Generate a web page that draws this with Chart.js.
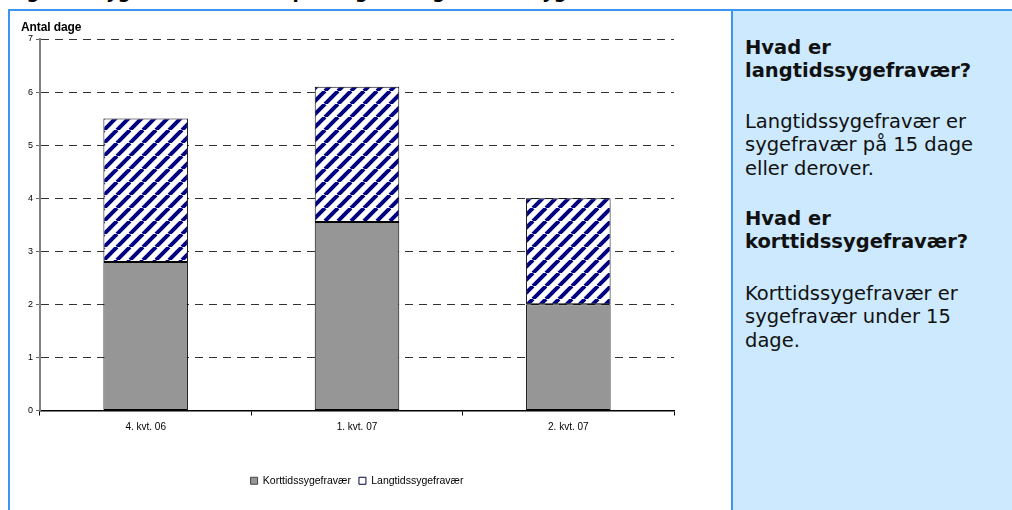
<!DOCTYPE html>
<html>
<head>
<meta charset="utf-8">
<script src="https://cdn.jsdelivr.net/npm/chart.js@4.4.1/dist/chart.umd.min.js"></script>
<style>
  html, body { margin:0; padding:0; background:#fff; }
  #wrap { position:relative; width:1012px; height:510px; overflow:hidden; background:#fff; }
  #title { position:absolute; left:8px; top:-19px; font:bold 18px "DejaVu Sans", Verdana, sans-serif; color:#000; white-space:nowrap; }
  #topline { position:absolute; left:8px; top:9px; width:1004px; height:2px; background:#3a96f0; }
  #leftline { position:absolute; left:8px; top:9px; width:2px; height:501px; background:#3a96f0; }
  #panel { position:absolute; left:731px; top:11px; width:281px; height:499px; background:#cce9fd; border-left:2px solid #3a96f0; box-sizing:border-box; }
  #panel .txt { position:absolute; left:12px; top:24.5px; width:268px; font:19.5px "DejaVu Sans", Verdana, sans-serif; color:#111; line-height:23.5px; }
  #panel h4 { font-weight:bold; margin:0; font-size:19.5px; line-height:23.5px; }
  #panel p { margin:0; }
  #h1 { margin-bottom:27px !important; }
  #p1 { margin-bottom:26.5px !important; }
  #h2 { margin-bottom:28px !important; }
  #ytitle { position:absolute; left:21px; top:20px; font:bold 12px "Liberation Sans Narrow", "Liberation Sans", Arial, sans-serif; color:#000; letter-spacing:-0.1px; }
  #c { position:absolute; left:0; top:0; }
</style>
</head>
<body>
<div id="wrap">
  <div id="title">Figur 3. Sygefravær fordelt på langtids- og korttidssygefravær</div>
  <div id="topline"></div>
  <div id="leftline"></div>
  <canvas id="c" width="731" height="510"></canvas>
  <div id="ytitle">Antal dage</div>
  <div id="panel"><div class="txt">
    <h4 id="h1">Hvad er<br>langtidssygefravær?</h4>
    <p id="p1">Langtidssygefravær er<br>sygefravær på 15 dage<br>eller derover.</p>
    <h4 id="h2">Hvad er<br>korttidssygefravær?</h4>
    <p id="p2">Korttidssygefravær er<br>sygefravær under 15<br>dage.</p>
  </div></div>
</div>
<script>
const categories = ['4. kvt. 06', '1. kvt. 07', '2. kvt. 07'];
const seriesNames = ['Korttidssygefravær', 'Langtidssygefravær'];
const kortValues = [2.8, 3.55, 2.0];
const langValues = [2.7, 2.55, 2.0];
const yMax = 7;
const yStep = 1;

function makeStripePattern() {
  const s = 13;
  const pc = document.createElement('canvas');
  pc.width = s; pc.height = s;
  const g = pc.getContext('2d');
  g.fillStyle = '#ffffff';
  g.fillRect(0, 0, s, s);
  g.strokeStyle = '#000080';
  g.lineWidth = 4;
  for (let k = -1; k <= 1; k++) {
    g.beginPath();
    g.moveTo(k * s, s);
    g.lineTo(k * s + s, 0);
    g.stroke();
  }
  return document.getElementById('c').getContext('2d').createPattern(pc, 'repeat');
}

const stripes = makeStripePattern();
const narrow = '"Liberation Sans Narrow", "Liberation Sans", Arial, sans-serif';

new Chart(document.getElementById('c'), {
  type: 'bar',
  data: {
    labels: categories,
    datasets: [
      { label: seriesNames[0], data: kortValues, backgroundColor: '#969696', borderColor: '#000', borderWidth: 1, borderSkipped: false },
      { label: seriesNames[1], data: langValues, backgroundColor: stripes, borderColor: '#000', borderWidth: 1, borderSkipped: false }
    ]
  },
  options: {
    responsive: false,
    animation: false,
    devicePixelRatio: 1,
    layout: { padding: { left: 9, right: 57, top: 39, bottom: 14 } },
    datasets: { bar: { categoryPercentage: 1, barPercentage: 0.4 } },
    plugins: {
      tooltip: { enabled: false },
      legend: {
        position: 'bottom',
        fullSize: false,
        labels: {
          boxWidth: 7, boxHeight: 7, padding: 8,
          font: { family: narrow, size: 10.5 }, color: '#000',
          generateLabels: (chart) => [
            { text: seriesNames[0], fillStyle: '#969696', strokeStyle: '#444', lineWidth: 1, datasetIndex: 0 },
            { text: seriesNames[1], fillStyle: '#ffffff', strokeStyle: '#000040', lineWidth: 1, datasetIndex: 1 }
          ]
        }
      }
    },
    scales: {
      x: {
        stacked: true,
        offset: true,
        afterFit: (s) => { s.height = 57; },
        grid: { offset: true, drawOnChartArea: false, drawTicks: true, tickLength: 5, tickColor: '#000', tickWidth: 1 },
        border: { display: true, color: '#000', width: 1.5 },
        ticks: { font: { family: narrow, size: 10 }, color: '#000', padding: 6 }
      },
      y: {
        stacked: true,
        min: 0, max: yMax,
        afterFit: (s) => { s.width = 31; },
        grid: { color: '#333', lineWidth: 1, drawTicks: true, tickLength: 4, tickColor: '#666', tickBorderDash: [] },
        border: { display: true, color: '#808080', width: 2, dash: [8, 6] },
        ticks: { stepSize: yStep, font: { family: narrow, size: 9 }, color: '#000', padding: 3 }
      }
    }
  }
});
</script>
</body>
</html>
